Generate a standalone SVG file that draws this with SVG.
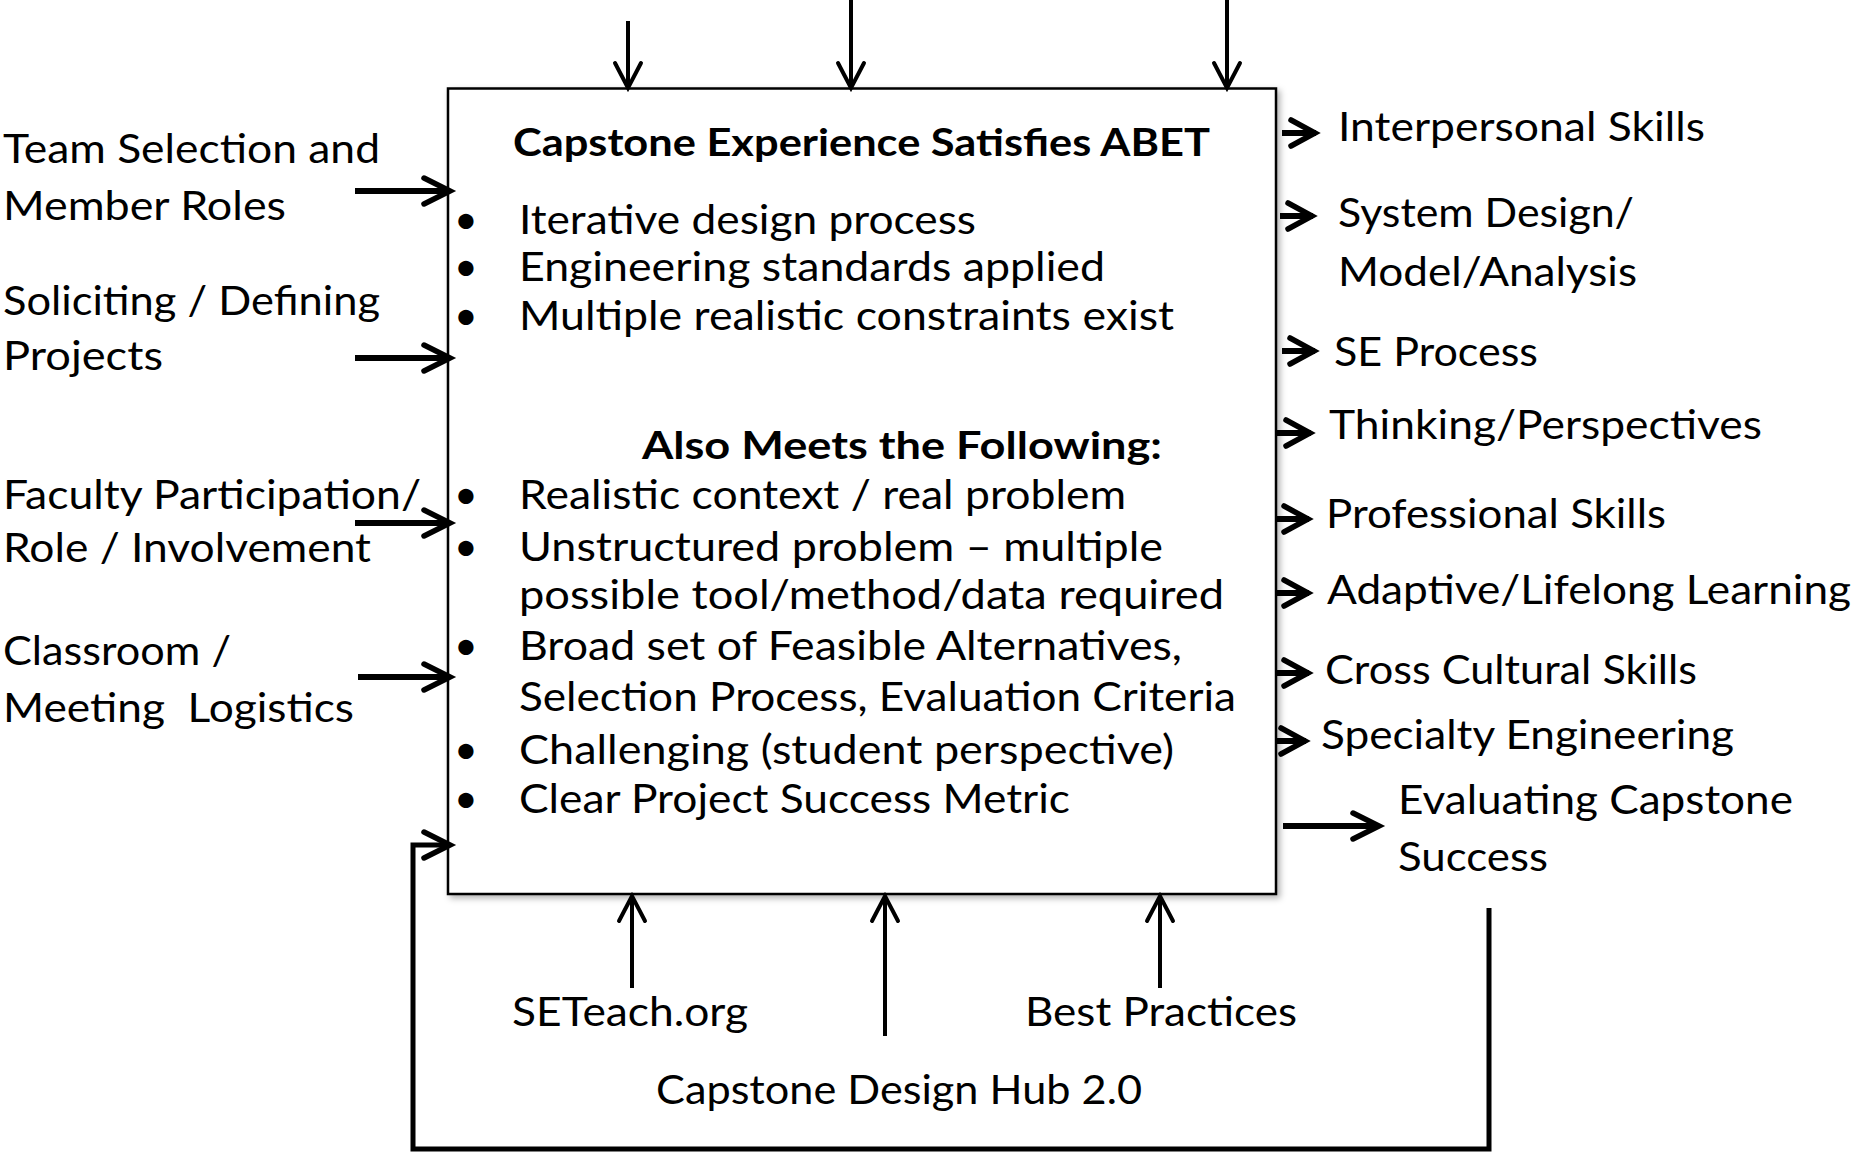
<svg xmlns="http://www.w3.org/2000/svg" width="1854" height="1152" viewBox="0 0 1854 1152">
  <defs>
    <style>
      text { font-family: Lato, "Open Sans", "Liberation Sans", sans-serif; font-size: 41px; fill: #000; }
      .title { font-weight: bold; font-size: 38px; }
      .bullet { font-size: 41px; }
      .wire { fill: none; stroke: #000; stroke-linecap: butt; stroke-linejoin: miter; }
      .thick { stroke-width: 6; }
      .thin { stroke-width: 4; }
      .loop { stroke-width: 5; }
      .head { fill: none; stroke: #000; stroke-width: 5.5; stroke-linecap: round; stroke-linejoin: miter; }
    </style>
    <filter id="boxShadow" x="-5%" y="-5%" width="112%" height="112%">
      <feDropShadow dx="3" dy="3" stdDeviation="3" flood-color="#000" flood-opacity="0.3"/>
    </filter>
    <!-- open chevron arrowhead, tip at the path end -->
    <marker id="chev" markerUnits="userSpaceOnUse" markerWidth="40" markerHeight="40" refX="30" refY="15" orient="auto" overflow="visible">
      <path d="M4,2 L30,15 L4,28" fill="none" stroke="#000" stroke-width="5.5" stroke-linecap="round"/>
    </marker>
    <marker id="chevS" markerUnits="userSpaceOnUse" markerWidth="40" markerHeight="40" refX="28" refY="14" orient="auto" overflow="visible">
      <path d="M3,1 L28,14 L3,27" fill="none" stroke="#000" stroke-width="4" stroke-linecap="round"/>
    </marker>
    <marker id="chevW" markerUnits="userSpaceOnUse" markerWidth="40" markerHeight="40" refX="28" refY="14" orient="auto" overflow="visible">
      <path d="M3,1 L27,14 L3,27" fill="none" stroke="#000" stroke-width="5.5" stroke-linecap="round"/>
    </marker>
  </defs>

  <rect width="1854" height="1152" fill="#fff"/>

  <!-- central activity box -->
  <g id="capstone-box">
    <rect x="448" y="88.5" width="828" height="805.5" fill="#fff" stroke="#000" stroke-width="2.5" filter="url(#boxShadow)"/>
    <text class="title" x="513" y="156" textLength="697" lengthAdjust="spacingAndGlyphs">Capstone Experience Satisfies ABET</text>
    <text class="bullet" x="466" y="234" text-anchor="middle">•</text>
    <text x="519" y="234" textLength="457" lengthAdjust="spacingAndGlyphs">Iterative design process</text>
    <text class="bullet" x="466" y="281" text-anchor="middle">•</text>
    <text x="519" y="281" textLength="586" lengthAdjust="spacingAndGlyphs">Engineering standards applied</text>
    <text class="bullet" x="466" y="330" text-anchor="middle">•</text>
    <text x="519" y="330" textLength="655" lengthAdjust="spacingAndGlyphs">Multiple realistic constraints exist</text>
    <text class="title" x="642" y="459" textLength="520" lengthAdjust="spacingAndGlyphs">Also Meets the Following:</text>
    <text class="bullet" x="466" y="509" text-anchor="middle">•</text>
    <text x="519" y="509" textLength="607" lengthAdjust="spacingAndGlyphs">Realistic context / real problem</text>
    <text class="bullet" x="466" y="561" text-anchor="middle">•</text>
    <text x="519" y="561" textLength="644" lengthAdjust="spacingAndGlyphs">Unstructured problem – multiple</text>
    <text x="519" y="609" textLength="705" lengthAdjust="spacingAndGlyphs">possible tool/method/data required</text>
    <text class="bullet" x="466" y="660" text-anchor="middle">•</text>
    <text x="519" y="660" textLength="663" lengthAdjust="spacingAndGlyphs">Broad set of Feasible Alternatives,</text>
    <text x="519" y="711" textLength="717" lengthAdjust="spacingAndGlyphs">Selection Process, Evaluation Criteria</text>
    <text class="bullet" x="466" y="764" text-anchor="middle">•</text>
    <text x="519" y="764" textLength="655" lengthAdjust="spacingAndGlyphs">Challenging (student perspective)</text>
    <text class="bullet" x="466" y="813" text-anchor="middle">•</text>
    <text x="519" y="813" textLength="551" lengthAdjust="spacingAndGlyphs">Clear Project Success Metric</text>
  </g>

  <!-- inputs (left) -->
  <g id="team-selection">
    <text x="3" y="163" textLength="377" lengthAdjust="spacingAndGlyphs">Team Selection and</text>
    <text x="3" y="220" textLength="283" lengthAdjust="spacingAndGlyphs">Member Roles</text>
  </g>
  <g id="soliciting-projects">
    <text x="3" y="315" textLength="377" lengthAdjust="spacingAndGlyphs">Soliciting / Defining</text>
    <text x="3" y="370" textLength="160" lengthAdjust="spacingAndGlyphs">Projects</text>
  </g>
  <g id="faculty-participation">
    <text x="3" y="509" textLength="418" lengthAdjust="spacingAndGlyphs">Faculty Participation/</text>
    <text x="3" y="562" textLength="368" lengthAdjust="spacingAndGlyphs">Role / Involvement</text>
  </g>
  <g id="classroom-logistics">
    <text x="3" y="665" textLength="228" lengthAdjust="spacingAndGlyphs">Classroom /</text>
    <text x="3" y="722" textLength="351" lengthAdjust="spacingAndGlyphs" xml:space="preserve">Meeting  Logistics</text>
  </g>

  <!-- outputs (right) -->
  <g id="interpersonal-skills">
    <text x="1338" y="141" textLength="367" lengthAdjust="spacingAndGlyphs">Interpersonal Skills</text>
  </g>
  <g id="system-design">
    <text x="1338" y="227" textLength="296" lengthAdjust="spacingAndGlyphs">System Design/</text>
    <text x="1338" y="286" textLength="299" lengthAdjust="spacingAndGlyphs">Model/Analysis</text>
  </g>
  <g id="se-process">
    <text x="1334" y="366" textLength="204" lengthAdjust="spacingAndGlyphs">SE Process</text>
  </g>
  <g id="thinking-perspectives">
    <text x="1329" y="439" textLength="433" lengthAdjust="spacingAndGlyphs">Thinking/Perspectives</text>
  </g>
  <g id="professional-skills">
    <text x="1326" y="528" textLength="340" lengthAdjust="spacingAndGlyphs">Professional Skills</text>
  </g>
  <g id="adaptive-learning">
    <text x="1327" y="604" textLength="524" lengthAdjust="spacingAndGlyphs">Adaptive/Lifelong Learning</text>
  </g>
  <g id="cross-cultural-skills">
    <text x="1325" y="684" textLength="372" lengthAdjust="spacingAndGlyphs">Cross Cultural Skills</text>
  </g>
  <g id="specialty-engineering">
    <text x="1321" y="749" textLength="413" lengthAdjust="spacingAndGlyphs">Specialty Engineering</text>
  </g>
  <g id="evaluating-success">
    <text x="1398" y="814" textLength="395" lengthAdjust="spacingAndGlyphs">Evaluating Capstone</text>
    <text x="1398" y="871" textLength="150" lengthAdjust="spacingAndGlyphs">Success</text>
  </g>

  <!-- mechanisms (bottom) -->
  <g id="seteach">
    <text x="512" y="1026" textLength="236" lengthAdjust="spacingAndGlyphs">SETeach.org</text>
  </g>
  <g id="best-practices">
    <text x="1025" y="1026" textLength="272" lengthAdjust="spacingAndGlyphs">Best Practices</text>
  </g>
  <g id="design-hub">
    <text x="656" y="1104" textLength="486" lengthAdjust="spacingAndGlyphs">Capstone Design Hub 2.0</text>
  </g>

  <!-- connectors -->
  <g id="connectors">
    <!-- controls entering from the top -->
    <path class="wire thin" d="M628,21 V88" marker-end="url(#chevS)"/>
    <path class="wire thin" d="M851,0 V88" marker-end="url(#chevS)"/>
    <path class="wire thin" d="M1227,0 V88" marker-end="url(#chevS)"/>

    <!-- inputs entering from the left -->
    <path class="wire thick" d="M355,191 H450" marker-end="url(#chev)"/>
    <path class="wire thick" d="M355,358 H450" marker-end="url(#chev)"/>
    <path class="wire thick" d="M355,523 H450" marker-end="url(#chev)"/>
    <path class="wire thick" d="M358,677 H450" marker-end="url(#chev)"/>

    <!-- feedback loop from the evaluation back into the box -->
    <path class="wire loop" d="M1489,908 V1149 H413 V845 H450" marker-end="url(#chev)"/>

    <!-- mechanisms entering from the bottom -->
    <path class="wire thin" d="M632,988 V896" marker-end="url(#chevS)"/>
    <path class="wire thin" d="M885,1036 V896" marker-end="url(#chevS)"/>
    <path class="wire thin" d="M1160,988 V896" marker-end="url(#chevS)"/>

    <!-- outputs leaving on the right -->
    <path class="wire thick" d="M1282,133 H1316" marker-end="url(#chevW)"/>
    <path class="wire thick" d="M1280,216 H1313" marker-end="url(#chevW)"/>
    <path class="wire thick" d="M1282,351 H1315" marker-end="url(#chevW)"/>
    <path class="wire thick" d="M1277,433 H1311" marker-end="url(#chevW)"/>
    <path class="wire thick" d="M1277,519 H1309" marker-end="url(#chevW)"/>
    <path class="wire thick" d="M1277,593 H1309" marker-end="url(#chevW)"/>
    <path class="wire thick" d="M1277,673 H1309" marker-end="url(#chevW)"/>
    <path class="wire thick" d="M1277,741 H1306" marker-end="url(#chevW)"/>
    <path class="wire thick" d="M1283,826 H1379" marker-end="url(#chev)"/>
  </g>
</svg>
